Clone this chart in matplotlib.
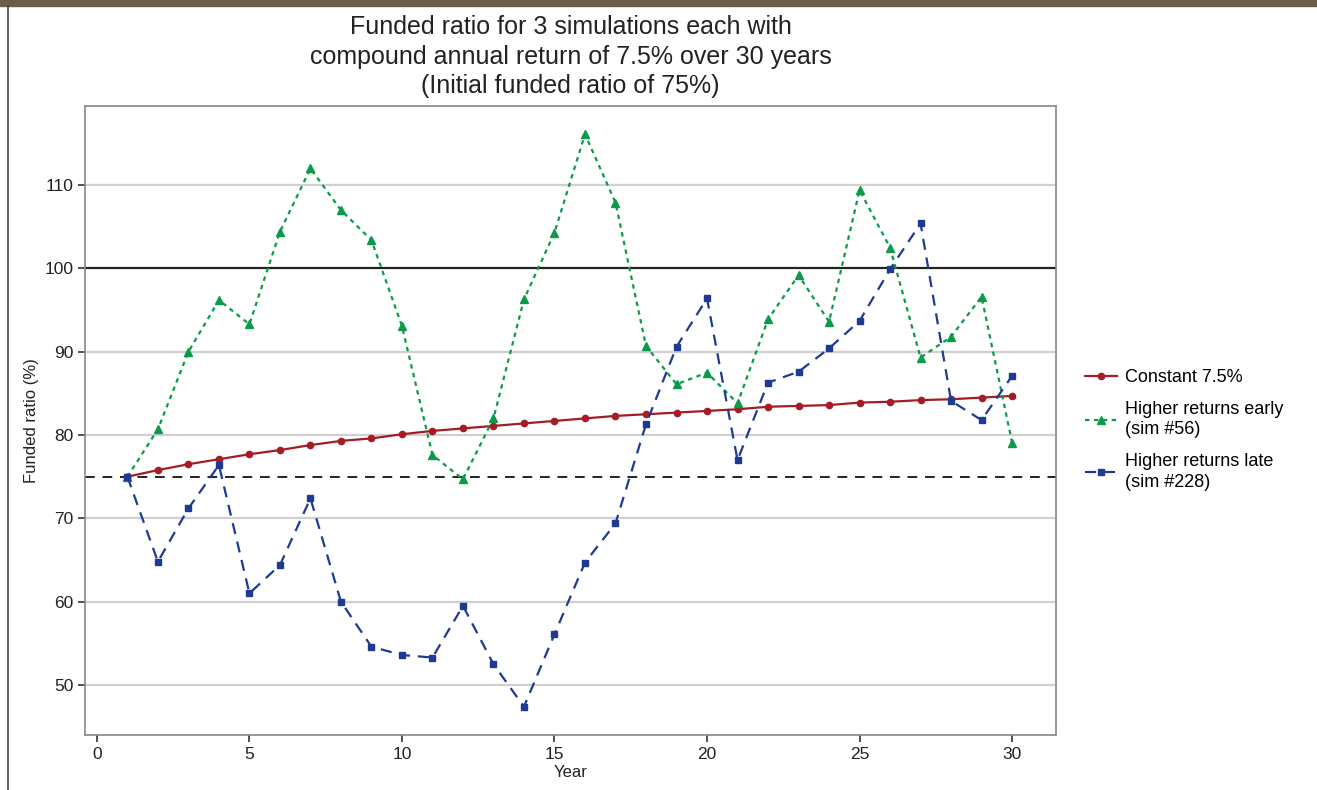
import matplotlib.pyplot as plt
from matplotlib.lines import Line2D

plt.rcParams['font.family'] = ['Liberation Sans', 'DejaVu Sans']

# funded ratio (%) by year
years = list(range(1, 31))
constant = [75.0, 75.8, 76.5, 77.1, 77.7, 78.2, 78.8, 79.3, 79.6, 80.1,
            80.5, 80.8, 81.1, 81.4, 81.7, 82.0, 82.3, 82.5, 82.7, 82.9,
            83.1, 83.4, 83.5, 83.6, 83.9, 84.0, 84.2, 84.3, 84.5, 84.7]
early = [75.0, 80.7, 90.0, 96.2, 93.3, 104.4, 112.0, 107.0, 103.4, 93.1,
         77.6, 74.7, 82.0, 96.3, 104.3, 116.1, 107.9, 90.7, 86.1, 87.5,
         83.8, 93.9, 99.2, 93.6, 109.4, 102.5, 89.3, 91.8, 96.6, 79.1]
late = [75.0, 64.8, 71.2, 76.4, 61.0, 64.4, 72.4, 60.0, 54.6, 53.6,
        53.3, 59.5, 52.5, 47.4, 56.1, 64.7, 69.4, 81.3, 90.6, 96.4,
        77.0, 86.3, 87.6, 90.4, 93.7, 99.9, 105.4, 84.1, 81.8, 87.1]

labels = ['Constant 7.5%', 'Higher returns early\n(sim #56)', 'Higher returns late\n(sim #228)']
title = ('Funded ratio for 3 simulations each with\n'
         'compound annual return of 7.5% over 30 years\n'
         '(Initial funded ratio of 75%)')

red = '#A51C24'
green = '#0A9B48'
blue = '#1F3A93'

fig = plt.figure(figsize=(13.17, 7.9), dpi=100)

# brown strip at the top and the page border on the left
fig.patches.append(plt.Rectangle((0, 1 - 6 / 790), 1, 6 / 790, transform=fig.transFigure,
                                 color='#6B5D47', zorder=0))
fig.lines.append(Line2D([7.5 / 1317, 7.5 / 1317], [0, 1 - 6 / 790], transform=fig.transFigure,
                        color='#444444', lw=1.2))

ax = fig.add_axes([85 / 1317, 55 / 790, (1056 - 85) / 1317, (735 - 106) / 790])

for y in [50, 60, 70, 80, 90, 110]:
    ax.axhline(y, color='#D0D0D0', lw=1.6, zorder=0)
ax.axhline(100, color='#222222', lw=1.6, zorder=1)
ax.axhline(75, color='#222222', lw=1.4, ls=(0, (5, 4)), zorder=1)

ax.plot(years, constant, color=red, lw=1.6, marker='o', ms=4.5, label=labels[0], zorder=3)
ax.plot(years, early, color=green, lw=1.6, ls=(0, (2, 2)), marker='^', ms=5.5,
        label=labels[1], zorder=3)
ax.plot(years, late, color=blue, lw=1.6, ls=(0, (5, 3.5)), marker='s', ms=4.5,
        label=labels[2], zorder=3)

ax.set_xlim(-0.39, 31.44)
ax.set_ylim(44.0, 119.5)
ax.set_xticks(range(0, 31, 5))
ax.set_yticks(range(50, 111, 10))
ax.tick_params(labelsize=12.5, length=5, width=1.2, color='#333333', labelcolor='#222222')
for s in ax.spines.values():
    s.set_color('#888888')
    s.set_linewidth(1.2)

ax.set_xlabel('Year', fontsize=12, labelpad=2, color='#222222')
ax.set_ylabel('Funded ratio (%)', fontsize=12, labelpad=4, color='#222222')
ax.set_title(title, fontsize=18, linespacing=1.3, pad=9, color='#222222')

leg = ax.legend(loc='center left', bbox_to_anchor=(1.013, 0.485), frameon=False, fontsize=13,
                handlelength=1.8, labelspacing=0.8, handletextpad=0.4)
for t in leg.get_texts():
    t.set_linespacing(1.3)

fig.savefig('out.png', dpi=100)
